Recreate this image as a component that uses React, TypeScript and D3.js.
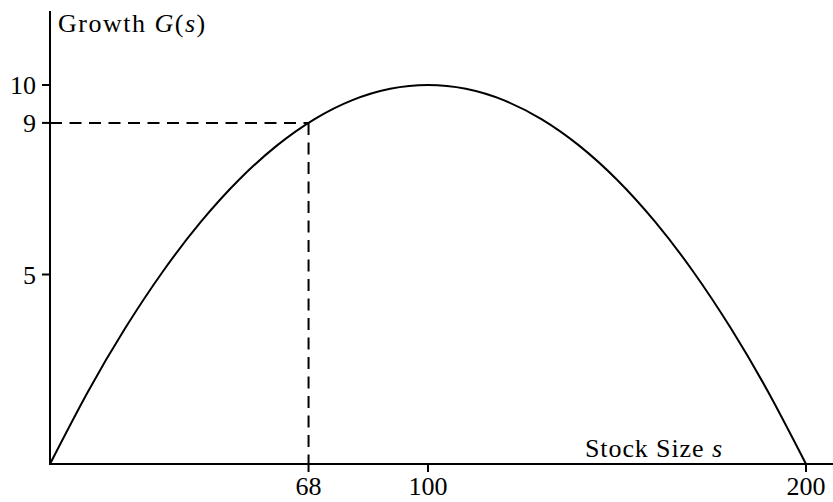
import React from "react";
import * as d3 from "d3";

const stockValues = [0, 10, 20, 30, 40, 50, 60, 70, 80, 90, 100, 110, 120, 130, 140, 150, 160, 170, 180, 190, 200];
const growthValues = [0, 1.9, 3.6, 5.1, 6.4, 7.5, 8.4, 9.1, 9.6, 9.9, 10, 9.9, 9.6, 9.1, 8.4, 7.5, 6.4, 5.1, 3.6, 1.9, 0];
const xTicks = [68.4, 100, 200];
const xTickLabels = ["68", "100", "200"];
const yTicks = [5, 9, 10];
const yTickLabels = ["5", "9", "10"];
const markerS = 68.4;
const markerG = 9;

const W = 833;
const H = 502;
const FONT = "'Liberation Serif', 'DejaVu Serif', serif";

export default function App() {
  const x = d3.scaleLinear().domain([0, 200]).range([50, 806]);
  const y = d3.scaleLinear().domain([0, 10]).range([464, 85]);
  const pts = stockValues.map((s, i) => [s, growthValues[i]] as [number, number]);
  const line = d3
    .line<[number, number]>()
    .x((d) => x(d[0]))
    .y((d) => y(d[1]))
    .curve(d3.curveNatural);
  const x0 = x(0);
  const y0 = y(0);
  return (
    <svg
      width={W}
      height={H}
      style={{ position: "fixed", left: 0, top: 0, background: "#fff" }}
      fontFamily={FONT}
    >
      <rect x={0} y={0} width={W} height={H} fill="#fff" />
      <line
        x1={x0}
        x2={x(markerS)}
        y1={y(markerG)}
        y2={y(markerG)}
        stroke="#000"
        strokeWidth={2}
        strokeDasharray="12 7.5"
      />
      <line
        x1={x(markerS)}
        x2={x(markerS)}
        y1={y(markerG)}
        y2={y0}
        stroke="#000"
        strokeWidth={2}
        strokeDasharray="12 7.5"
      />
      <path d={line(pts) || ""} fill="none" stroke="#000" strokeWidth={2} />
      <line x1={x0} x2={x0} y1={11} y2={y0 + 1} stroke="#000" strokeWidth={2} />
      <line x1={x0 - 1} x2={833} y1={y0} y2={y0} stroke="#000" strokeWidth={2} />
      {yTicks.map((t, i) => (
        <g key={"y" + i}>
          <line x1={x0 - 8} x2={x0} y1={y(t)} y2={y(t)} stroke="#000" strokeWidth={2} />
          <text x={36} y={y(t) + 9} textAnchor="end" fontSize={26} fill="#000">
            {yTickLabels[i]}
          </text>
        </g>
      ))}
      {xTicks.map((t, i) => (
        <g key={"x" + i}>
          <line x1={x(t)} x2={x(t)} y1={y0} y2={y0 + 8} stroke="#000" strokeWidth={2} />
          <text x={x(t)} y={495} textAnchor="middle" fontSize={26} fill="#000">
            {xTickLabels[i]}
          </text>
        </g>
      ))}
      <text x={58} y={32} fontSize={26} fill="#000" letterSpacing={1.5}>
        Growth <tspan fontStyle="italic">G</tspan>(<tspan fontStyle="italic">s</tspan>)
      </text>
      <text x={585} y={457} fontSize={26} fill="#000" letterSpacing={0.9}>
        Stock Size <tspan fontStyle="italic">s</tspan>
      </text>
    </svg>
  );
}
